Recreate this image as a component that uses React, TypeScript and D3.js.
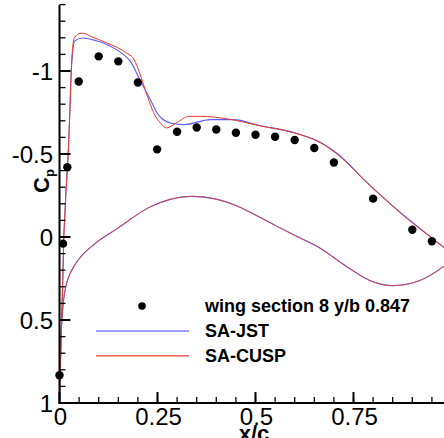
import React from "react";
import { scaleLinear, line, curveMonotoneX, range } from "d3";

// experiment
const expX = [0, 0.009, 0.02, 0.049, 0.1, 0.15, 0.2, 0.249, 0.3, 0.35, 0.4, 0.45, 0.5, 0.55, 0.6, 0.65, 0.7, 0.8, 0.9, 0.95];
const expCp = [0.833, 0.04, -0.42, -0.937, -1.088, -1.058, -0.931, -0.528, -0.634, -0.66, -0.648, -0.628, -0.616, -0.604, -0.584, -0.536, -0.449, -0.231, -0.044, 0.026];

// SA-CUSP upper surface
const cuspUpX = [0, 0.003, 0.006, 0.009, 0.011, 0.013, 0.016, 0.02, 0.024, 0.027, 0.03, 0.033, 0.038, 0.05, 0.06, 0.08, 0.12, 0.17, 0.19, 0.207, 0.224, 0.24, 0.258, 0.273, 0.3, 0.33, 0.36, 0.43, 0.51, 0.6, 0.67, 0.71, 0.785, 0.87, 0.955, 0.99];
const cuspUpCp = [0.97, 0.7, 0.45, 0.2, 0.0, -0.1, -0.25, -0.41, -0.6, -0.8, -1.0, -1.13, -1.2, -1.225, -1.228, -1.208, -1.17, -1.11, -1.07, -0.97, -0.85, -0.75, -0.685, -0.657, -0.69, -0.727, -0.727, -0.711, -0.67, -0.626, -0.562, -0.496, -0.325, -0.145, 0.016, 0.08];

// SA-JST upper surface
const jstUpX = [0, 0.003, 0.006, 0.009, 0.011, 0.013, 0.016, 0.02, 0.024, 0.027, 0.03, 0.033, 0.038, 0.058, 0.09, 0.122, 0.156, 0.181, 0.207, 0.232, 0.249, 0.258, 0.283, 0.317, 0.385, 0.444, 0.51, 0.6, 0.67, 0.71, 0.785, 0.87, 0.955, 0.99];
const jstUpCp = [0.97, 0.7, 0.45, 0.2, 0.0, -0.1, -0.25, -0.41, -0.6, -0.8, -1.0, -1.1, -1.178, -1.199, -1.185, -1.158, -1.112, -1.058, -0.937, -0.827, -0.747, -0.72, -0.687, -0.677, -0.707, -0.707, -0.672, -0.628, -0.565, -0.5, -0.327, -0.146, 0.015, 0.08];

// lower surface (both runs)
const lowX = [0, 0.004, 0.007, 0.011, 0.016, 0.022, 0.036, 0.054, 0.088, 0.15, 0.23, 0.28, 0.34, 0.4, 0.45, 0.49, 0.55, 0.6, 0.66, 0.74, 0.79, 0.85, 0.91, 0.96, 0.99];
const lowCp = [0.97, 0.6, 0.47, 0.37, 0.3, 0.25, 0.18, 0.12, 0.045, -0.055, -0.18, -0.225, -0.245, -0.228, -0.19, -0.145, -0.07, -0.01, 0.06, 0.19, 0.26, 0.293, 0.27, 0.21, 0.16];

const xMajor = [0, 0.25, 0.5, 0.75];
const xLabels = ["0", "0.25", "0.5", "0.75"];
const yMajor = [-1, -0.5, 0, 0.5, 1];
const yLabels = ["-1", "-0.5", "0", "0.5", "1"];

const legendLabels = ["wing section 8 y/b 0.847", "SA-JST", "SA-CUSP"];

const W = 444;
const H = 438;
const font = "'Liberation Sans', Arial, sans-serif";
const blue = "#5c5cff";
const red = "#ec3a26";

const App = () => {
  const x = scaleLinear().domain([0, 1]).range([59.5, 451.5]);
  const y = scaleLinear().domain([-1, 1]).range([71, 403]);

  const path = (xs: number[], cs: number[]) =>
    line<number>()
      .x((d) => x(xs[d]))
      .y((d) => y(cs[d]))
      .curve(curveMonotoneX)(xs.map((_, i) => i)) as string;

  const xMinor = range(0, 20).map((i) => i * 0.05);
  const yMinor = range(-14, 11).map((i) => i / 10);

  return (
    <svg width={W} height={H} style={{ position: "absolute", left: 0, top: 0 }} fontFamily={font}>
      <rect width={W} height={H} fill="#fff" />

      {/* curves */}
      <path d={path(lowX, lowCp)} fill="none" stroke={blue} strokeWidth={1.1} />
      <path d={path(jstUpX, jstUpCp)} fill="none" stroke={blue} strokeWidth={1.1} />
      <path d={path(lowX, lowCp)} fill="none" stroke={red} strokeWidth={1} opacity={0.8} />
      <path d={path(cuspUpX, cuspUpCp)} fill="none" stroke={red} strokeWidth={1} />

      {expX.map((d, i) => (
        <circle key={i} cx={x(d)} cy={y(expCp[i])} r={4.2} fill="#000" />
      ))}

      {/* axes */}
      <line x1={x(0)} x2={x(0)} y1={5} y2={y(1) + 1} stroke="#000" strokeWidth={2} />
      <line x1={x(0) - 1} x2={W} y1={y(1)} y2={y(1)} stroke="#000" strokeWidth={2} />
      {yMinor.map((v, i) => (
        <line key={"ym" + i} x1={x(0)} x2={x(0) + 6} y1={y(v)} y2={y(v)} stroke="#000" strokeWidth={1.3} />
      ))}
      {yMajor.map((v, i) => (
        <g key={"yM" + i}>
          <line x1={x(0)} x2={x(0) + 11} y1={y(v)} y2={y(v)} stroke="#000" strokeWidth={2} />
          <text x={53} y={y(v) + 8.6} fontSize={24} textAnchor="end" fill="#000">
            {yLabels[i]}
          </text>
        </g>
      ))}
      {xMinor.map((v, i) => (
        <line key={"xm" + i} x1={x(v)} x2={x(v)} y1={y(1)} y2={y(1) - 6} stroke="#000" strokeWidth={1.3} />
      ))}
      {xMajor.map((v, i) => (
        <g key={"xM" + i}>
          <line x1={x(v)} x2={x(v)} y1={y(1)} y2={y(1) - 11} stroke="#000" strokeWidth={2} />
          <text x={x(v) + 1} y={425} fontSize={24} textAnchor="middle" fill="#000">
            {xLabels[i]}
          </text>
        </g>
      ))}

      {/* axis titles */}
      <text x={254} y={441} fontSize={22} fontWeight="bold" textAnchor="middle">
        x/c
      </text>
      <text transform="translate(49,181) rotate(-90)" fontSize={22} fontWeight="bold" textAnchor="middle">
        C<tspan fontSize={13} dy={5}>p</tspan>
      </text>

      {/* legend */}
      <circle cx={142} cy={306} r={3.8} fill="#000" />
      <line x1={96} x2={189} y1={331} y2={331} stroke={blue} strokeWidth={1.6} opacity={0.8} />
      <line x1={96} x2={189} y1={355.7} y2={355.7} stroke={red} strokeWidth={1.6} opacity={0.8} />
      {legendLabels.map((t, i) => (
        <text key={t} x={205} y={312 + i * 25} fontSize={18} fontWeight="bold" fill="#000">
          {t}
        </text>
      ))}
    </svg>
  );
};

export default App;
